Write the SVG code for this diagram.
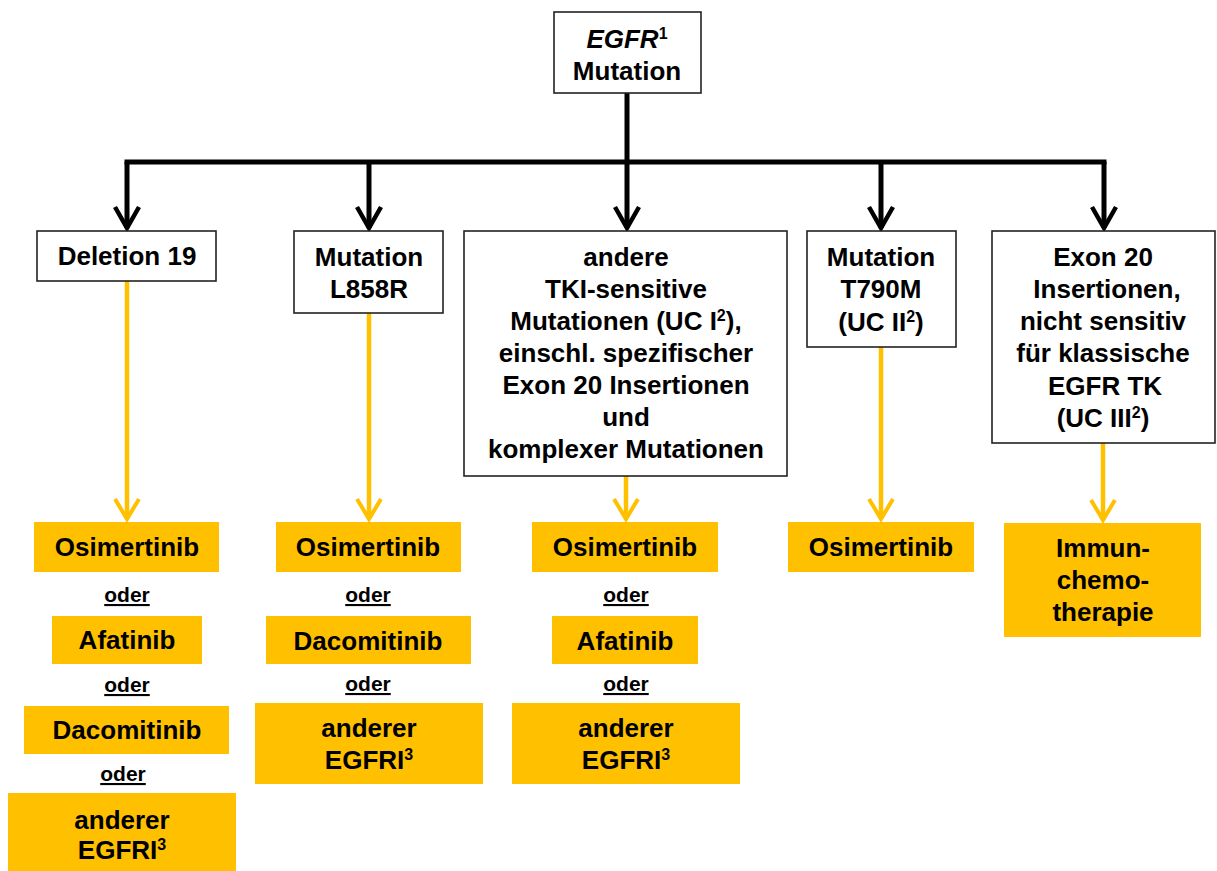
<svg xmlns="http://www.w3.org/2000/svg" width="1217" height="871" viewBox="0 0 1217 871">
<style>
  .bg{fill:#ffffff}
  .box{fill:#ffffff;stroke:#222222;stroke-width:1.6}
  .ybox{fill:#FFC000;stroke:none}
  text{font-family:"Liberation Sans",Arial,sans-serif;font-weight:bold;font-size:26px;fill:#000;text-anchor:middle}
  .oder{font-size:21px;text-decoration:underline}
  .blk{stroke:#000;stroke-width:5;fill:none}
  .ylw{stroke:#FFC000;stroke-width:4.5;fill:none}
</style>
<defs>
  <marker id="ahB" markerUnits="userSpaceOnUse" viewBox="-26 -16 30 32" markerWidth="30" markerHeight="32" refX="0" refY="0" orient="auto">
    <path d="M-21,-12 L0,0 L-21,12" fill="none" stroke="#000" stroke-width="4.5" stroke-linejoin="miter" stroke-linecap="butt"/>
  </marker>
  <marker id="ahY" markerUnits="userSpaceOnUse" viewBox="-26 -16 30 32" markerWidth="30" markerHeight="32" refX="0" refY="0" orient="auto">
    <path d="M-20,-12 L0,0 L-20,12" fill="none" stroke="#FFC000" stroke-width="4" stroke-linejoin="miter" stroke-linecap="butt"/>
  </marker>
</defs>
<rect class="bg" x="0" y="0" width="1217" height="871"/>

<g id="connectors">
  <path class="blk" d="M627,93 V162"/>
  <path class="blk" d="M127,162 H1104" stroke-linecap="square"/>
  <path class="blk" d="M127,162 V228" marker-end="url(#ahB)"/>
  <path class="blk" d="M369,162 V228" marker-end="url(#ahB)"/>
  <path class="blk" d="M627,162 V228" marker-end="url(#ahB)"/>
  <path class="blk" d="M881,162 V228" marker-end="url(#ahB)"/>
  <path class="blk" d="M1104,162 V228" marker-end="url(#ahB)"/>
  <path class="ylw" d="M127,281 V519" marker-end="url(#ahY)"/>
  <path class="ylw" d="M369,313 V519" marker-end="url(#ahY)"/>
  <path class="ylw" d="M626,476 V519" marker-end="url(#ahY)"/>
  <path class="ylw" d="M881,347 V519" marker-end="url(#ahY)"/>
  <path class="ylw" d="M1103,443 V520" marker-end="url(#ahY)"/>
</g>

<g id="egfr-mutation">
  <rect class="box" x="554" y="12" width="147" height="81"/>
  <text x="627" y="48"><tspan font-style="italic">EGFR</tspan><tspan font-size="16" dy="-9">1</tspan></text>
  <text x="627" y="80">Mutation</text>
</g>

<g id="deletion19">
  <rect class="box" x="37" y="231" width="179" height="50"/>
  <text x="127" y="265">Deletion 19</text>
</g>

<g id="l858r">
  <rect class="box" x="294" y="231" width="149" height="82"/>
  <text x="369" y="266">Mutation</text>
  <text x="369" y="298">L858R</text>
</g>

<g id="andere">
  <rect class="box" x="464" y="231" width="323" height="245"/>
  <text x="626" y="266">andere</text>
  <text x="626" y="298">TKI-sensitive</text>
  <text x="626" y="330">Mutationen (UC I<tspan font-size="16" dy="-9">2</tspan><tspan dy="9">),</tspan></text>
  <text x="626" y="362">einschl. spezifischer</text>
  <text x="626" y="394">Exon 20 Insertionen</text>
  <text x="626" y="426">und</text>
  <text x="626" y="458">komplexer Mutationen</text>
</g>

<g id="t790m">
  <rect class="box" x="807" y="231" width="149" height="116"/>
  <text x="881" y="266">Mutation</text>
  <text x="881" y="298">T790M</text>
  <text x="881" y="331">(UC II<tspan font-size="16" dy="-9">2</tspan><tspan dy="9">)</tspan></text>
</g>

<g id="exon20">
  <rect class="box" x="992" y="231" width="223" height="212"/>
  <text x="1103" y="266">Exon 20</text>
  <text x="1107" y="298">Insertionen,</text>
  <text x="1103" y="330">nicht sensitiv</text>
  <text x="1103" y="362">für klassische</text>
  <text x="1105" y="395">EGFR TK</text>
  <text x="1103" y="427">(UC III<tspan font-size="16" dy="-9">2</tspan><tspan dy="9">)</tspan></text>
</g>

<g id="col1-therapy">
  <rect class="ybox" x="34" y="522" width="185" height="50"/>
  <text x="127" y="556">Osimertinib</text>
  <text class="oder" x="127" y="602">oder</text>
  <rect class="ybox" x="52" y="616" width="150" height="48"/>
  <text x="127" y="649">Afatinib</text>
  <text class="oder" x="127" y="692">oder</text>
  <rect class="ybox" x="24" y="706" width="205" height="48"/>
  <text x="127" y="739">Dacomitinib</text>
  <text class="oder" x="123" y="781">oder</text>
  <rect class="ybox" x="8" y="793" width="228" height="78"/>
  <text x="122" y="829">anderer</text>
  <text x="122" y="859">EGFRI<tspan font-size="16" dy="-9">3</tspan></text>
</g>

<g id="col2-therapy">
  <rect class="ybox" x="276" y="522" width="185" height="50"/>
  <text x="368" y="556">Osimertinib</text>
  <text class="oder" x="368" y="602">oder</text>
  <rect class="ybox" x="266" y="616" width="205" height="48"/>
  <text x="368" y="650">Dacomitinib</text>
  <text class="oder" x="368" y="691">oder</text>
  <rect class="ybox" x="255" y="703" width="228" height="81"/>
  <text x="369" y="737">anderer</text>
  <text x="369" y="769">EGFRI<tspan font-size="16" dy="-9">3</tspan></text>
</g>

<g id="col3-therapy">
  <rect class="ybox" x="532" y="522" width="186" height="50"/>
  <text x="625" y="556">Osimertinib</text>
  <text class="oder" x="626" y="602">oder</text>
  <rect class="ybox" x="552" y="616" width="146" height="48"/>
  <text x="625" y="650">Afatinib</text>
  <text class="oder" x="626" y="691">oder</text>
  <rect class="ybox" x="512" y="703" width="228" height="81"/>
  <text x="626" y="737">anderer</text>
  <text x="626" y="769">EGFRI<tspan font-size="16" dy="-9">3</tspan></text>
</g>

<g id="col4-therapy">
  <rect class="ybox" x="788" y="522" width="186" height="50"/>
  <text x="881" y="556">Osimertinib</text>
</g>

<g id="col5-therapy">
  <rect class="ybox" x="1004" y="523" width="197" height="114"/>
  <text x="1103" y="557">Immun-</text>
  <text x="1103" y="589">chemo-</text>
  <text x="1103" y="621">therapie</text>
</g>
</svg>
